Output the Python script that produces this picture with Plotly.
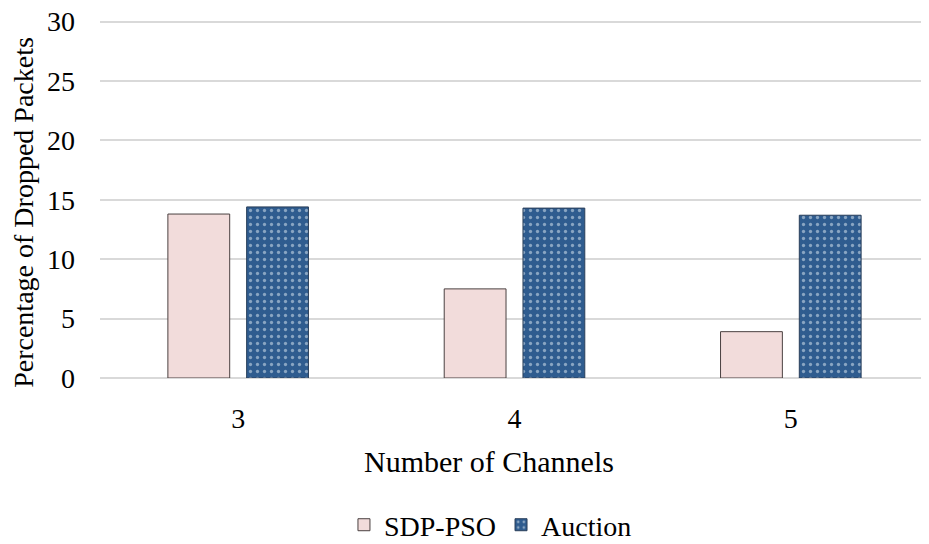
import plotly.graph_objects as go

channels = [3, 4, 5]
sdp_pso = [13.8, 7.5, 3.9]
auction = [14.4, 14.3, 13.7]
y_ticks = [0, 5, 10, 15, 20, 25, 30]

FONT = "Liberation Serif, Times New Roman, serif"

fig = go.Figure()
fig.add_trace(go.Bar(
    x=channels, y=sdp_pso, name="SDP-PSO",
    marker=dict(color="#F2DCDB", line=dict(color="#4a4040", width=1)),
))
fig.add_trace(go.Bar(
    x=channels, y=auction, name="Auction",
    marker=dict(color="#2F5C8F", line=dict(color="#2a3f5a", width=1),
                pattern=dict(shape=".", fgcolor="#e4eef5", bgcolor="#2F5C8F",
                             size=7, solidity=0.17, fillmode="overlay")),
))

# page body adds an 8px offset; figure sized to fit the 929x544 window
fig.update_layout(
    width=921, height=536,
    paper_bgcolor="white", plot_bgcolor="white",
    margin=dict(l=92, r=0, t=10.4, b=166, autoexpand=False),
    barmode="group", bargap=0.43, bargroupgap=0.215,
    font=dict(family=FONT, size=28, color="#000000"),
    xaxis=dict(
        range=[2.5, 5.5], tickvals=channels, ticktext=[str(c) for c in channels],
        showgrid=False, zeroline=False, showline=False, ticks="",
        ticklabelstandoff=21, automargin=False,
        tickfont=dict(size=28),
    ),
    yaxis=dict(
        range=[0, 30.3], tickvals=y_ticks, showgrid=True, gridcolor="#D9D9D9",
        gridwidth=1.5, zeroline=True, zerolinecolor="#D9D9D9", zerolinewidth=1.5,
        showline=False, ticks="", ticklabelstandoff=24, automargin=False,
        ticklabeloverflow="allow",
        tickfont=dict(size=28),
    ),
    legend=dict(orientation="h", x=0.471, xanchor="center", yref="container",
                y=0.0354, yanchor="middle",
                font=dict(size=28), itemwidth=30, traceorder="normal"),
    annotations=[
        dict(text="Number of Channels", xref="paper", yref="paper",
             x=0.469, y=-0.231, xanchor="center", yanchor="middle",
             showarrow=False, font=dict(size=30)),
        dict(text="Percentage of Dropped Packets", xref="paper", yref="paper",
             x=-0.0917, y=0.4616, xanchor="center", yanchor="middle",
             textangle=-90, showarrow=False, font=dict(size=28)),
    ],
)

fig.write_html("out.html")
